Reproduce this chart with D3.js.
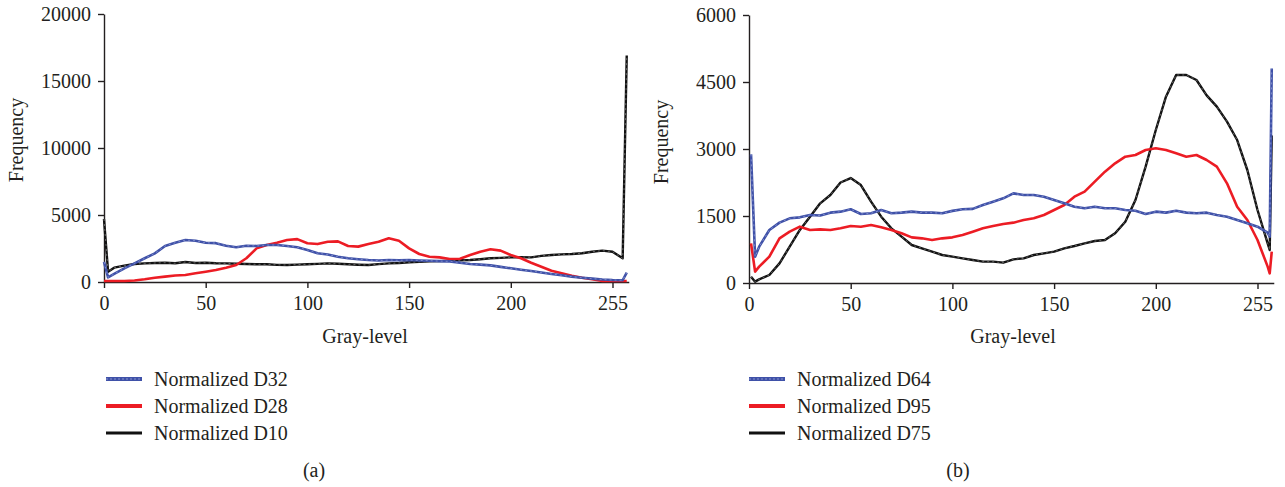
<!DOCTYPE html>
<html lang="en">
  <head>
    <meta charset="utf-8">
    <title>Normalized gray-level histograms</title>
    <style>
      body { margin: 0; background: #fff; }
      svg text { font-family: 'Liberation Serif', 'Times New Roman', serif; fill: #231f20; }
    </style>
  </head>
  <body>
    <div id="chart-area"></div>
    <script src="https://cdn.jsdelivr.net/npm/d3@7/dist/d3.min.js"></script>
    <script>
      // gray levels (panel a starts at 0, panel b at 1)
      const levels_a = [0, 2, 5, 10, 15, 20, 25, 30, 35, 40, 45, 50, 55, 60, 65, 70, 75, 80, 85, 90, 95,
        100, 105, 110, 115, 120, 125, 130, 135, 140, 145, 150, 155, 160, 165, 170, 175, 180, 185, 190, 195,
        200, 205, 210, 215, 220, 225, 230, 235, 240, 245, 250, 255, 257];
      const d32 = [1500, 350, 600, 1020, 1390, 1770, 2140, 2690, 2930, 3130, 3080, 2930, 2900, 2710, 2590, 2710, 2690, 2760, 2760, 2690, 2590,
        2390, 2140, 2050, 1890, 1770, 1700, 1640, 1600, 1640, 1620, 1640, 1610, 1590, 1560, 1540, 1440, 1340, 1300, 1240, 1130,
        1020, 920, 820, 710, 600, 500, 400, 320, 250, 190, 150, 130, 700];
      const d28 = [80, 80, 80, 80, 110, 200, 320, 400, 480, 520, 650, 770, 900, 1070, 1270, 1770, 2510, 2760, 2930, 3130, 3200,
        2890, 2830, 3000, 3030, 2690, 2640, 2840, 3000, 3260, 3080, 2510, 2090, 1890, 1840, 1720, 1740, 2010, 2260, 2440, 2340,
        2010, 1770, 1440, 1140, 840, 650, 470, 320, 200, 80, 80, 80, 80];
      const d10 = [4700, 770, 1070, 1220, 1340, 1390, 1420, 1440, 1400, 1490, 1420, 1440, 1400, 1390, 1360, 1340, 1320, 1320, 1280, 1270, 1300,
        1320, 1350, 1390, 1360, 1320, 1290, 1270, 1330, 1390, 1420, 1470, 1500, 1540, 1560, 1590, 1620, 1640, 1700, 1770, 1800,
        1840, 1860, 1840, 1950, 2010, 2060, 2090, 2150, 2260, 2340, 2260, 1770, 16900];

      const levels_b = [1, 3, 5, 10, 15, 20, 25, 30, 35, 40, 45, 50, 55, 60, 65, 70, 75, 80, 85, 90, 95,
        100, 105, 110, 115, 120, 125, 130, 135, 140, 145, 150, 155, 160, 165, 170, 175, 180, 185, 190, 195,
        200, 205, 210, 215, 220, 225, 230, 235, 240, 245, 250, 255, 256, 257];
      const d64 = [2880, 590, 813, 1187, 1351, 1448, 1470, 1522, 1510, 1575, 1597, 1650, 1545, 1560, 1634, 1560, 1575, 1597, 1575, 1575, 1560,
        1615, 1650, 1660, 1746, 1821, 1895, 2007, 1970, 1970, 1933, 1858, 1784, 1709, 1672, 1709, 1672, 1672, 1634, 1619, 1545,
        1597, 1575, 1619, 1575, 1560, 1575, 1522, 1485, 1410, 1336, 1261, 1127, 1037, 4800];
      const d95 = [888, 254, 366, 590, 1000, 1149, 1261, 1187, 1201, 1187, 1224, 1276, 1261, 1299, 1246, 1187, 1112, 1022, 1000, 963, 1000,
        1022, 1075, 1149, 1224, 1276, 1321, 1351, 1410, 1448, 1522, 1634, 1746, 1933, 2045, 2269, 2493, 2679, 2828, 2866, 2978,
        3015, 2978, 2903, 2828, 2866, 2754, 2604, 2231, 1709, 1410, 963, 366, 216, 700];
      const d75 = [142, 30, 82, 179, 440, 813, 1187, 1485, 1784, 1970, 2250, 2350, 2194, 1821, 1485, 1224, 1037, 851, 776, 701, 627,
        590, 552, 515, 478, 478, 455, 530, 552, 627, 664, 701, 776, 828, 888, 940, 963, 1112, 1373, 1858, 2604,
        3425, 4172, 4657, 4657, 4545, 4200, 3948, 3612, 3201, 2530, 1634, 888, 739, 3300];

      const names_a = ['Normalized D32', 'Normalized D28', 'Normalized D10'];
      const names_b = ['Normalized D64', 'Normalized D95', 'Normalized D75'];
      const y_ticks_a = [0, 5000, 10000, 15000, 20000];
      const y_ticks_b = [0, 1500, 3000, 4500, 6000];
      const x_ticks = [0, 50, 100, 150, 200, 250];
      const x_tick_labels = ['0', '50', '100', '150', '200', '255'];

      const svg_width = 1285;
      const svg_height = 487;
      const px_per_level = 2.034;
      const ink = '#231f20';

      const styles = [
        { color: '#3f51a8', width: 2.6, dash: '#9aa5d8', legend_width: 4 },
        { color: '#ec1c24', width: 2.6, dash: null, legend_width: 4 },
        { color: '#111111', width: 2.4, dash: '#8a8a8a', legend_width: 3 }
      ];

      const svg = d3.select('#chart-area')
        .append('svg')
        .attr('width', svg_width)
        .attr('height', svg_height);

      function draw_panel(p) {
        const x_scale = d3.scaleLinear()
          .domain([0, 258])
          .range([p.left, p.left + 258 * px_per_level]);
        const y_scale = d3.scaleLinear()
          .domain([0, p.y_max])
          .range([p.bottom, p.top]);

        const g = svg.append('g');

        const y_axis = g.append('g')
          .attr('transform', `translate(${p.left},0)`)
          .call(d3.axisLeft(y_scale).tickValues(p.y_ticks).tickSize(6).tickPadding(7).tickSizeOuter(0)
            .tickFormat(d3.format('d')));
        const x_axis = g.append('g')
          .attr('transform', `translate(0,${p.bottom})`)
          .call(d3.axisBottom(x_scale).tickValues(x_ticks).tickSize(6).tickPadding(8).tickSizeOuter(0)
            .tickFormat((d, i) => x_tick_labels[i]));

        [y_axis, x_axis].forEach(ax => {
          ax.select('.domain').attr('stroke', ink).attr('stroke-width', 1.4);
          ax.selectAll('.tick line').attr('stroke', ink).attr('stroke-width', 1.4);
          ax.selectAll('.tick text').attr('font-size', '20px').attr('font-family', null).attr('fill', ink);
        });

        const line = d3.line()
          .x((d, i) => x_scale(p.levels[i]))
          .y(d => y_scale(d));

        // black first, then red, blue on top
        [2, 1, 0].forEach(k => {
          const s = styles[k];
          g.append('path')
            .datum(p.series[k])
            .attr('d', line)
            .attr('fill', 'none')
            .attr('stroke', s.color)
            .attr('stroke-width', s.width)
            .attr('stroke-linejoin', 'round');
          if (s.dash) {
            g.append('path')
              .datum(p.series[k])
              .attr('d', line)
              .attr('fill', 'none')
              .attr('stroke', s.dash)
              .attr('stroke-width', 0.7)
              .attr('stroke-dasharray', '2,3');
          }
        });

        g.append('text')
          .attr('transform', `translate(${p.ylab_x},${p.ylab_y}) rotate(-90)`)
          .attr('text-anchor', 'middle')
          .attr('dy', '0.32em')
          .attr('font-size', '20px')
          .text('Frequency');

        g.append('text')
          .attr('x', p.xlab_x)
          .attr('y', 343)
          .attr('text-anchor', 'middle')
          .attr('font-size', '20px')
          .text('Gray-level');

        const legend = g.selectAll('.legend').data(p.names).enter()
          .append('g')
          .attr('transform', (d, i) => `translate(${p.legend_x},${379 + i * 27})`);
        legend.append('line')
          .attr('x1', 0).attr('x2', 36)
          .attr('stroke', (d, i) => styles[i].color)
          .attr('stroke-width', (d, i) => styles[i].legend_width);
        legend.filter((d, i) => styles[i].dash).append('line')
          .attr('x1', 0).attr('x2', 36)
          .attr('stroke', (d, i) => styles[i].dash)
          .attr('stroke-width', 0.8)
          .attr('stroke-dasharray', '2,2');
        legend.append('text')
          .attr('x', 48)
          .attr('y', 6.5)
          .attr('font-size', '20px')
          .text(d => d);

        g.append('text')
          .attr('x', p.caption_x)
          .attr('y', 477)
          .attr('text-anchor', 'middle')
          .attr('font-size', '20px')
          .text(p.caption);
      }

      draw_panel({
        left: 104, top: 14, bottom: 282, y_max: 20000, y_ticks: y_ticks_a,
        levels: levels_a, series: [d32, d28, d10], names: names_a,
        ylab_x: 17, ylab_y: 140, xlab_x: 365, legend_x: 106, caption_x: 314, caption: '(a)'
      });
      draw_panel({
        left: 749, top: 15, bottom: 283, y_max: 6000, y_ticks: y_ticks_b,
        levels: levels_b, series: [d64, d95, d75], names: names_b,
        ylab_x: 662, ylab_y: 142, xlab_x: 1013, legend_x: 749, caption_x: 958, caption: '(b)'
      });
    </script>
  </body>
</html>
